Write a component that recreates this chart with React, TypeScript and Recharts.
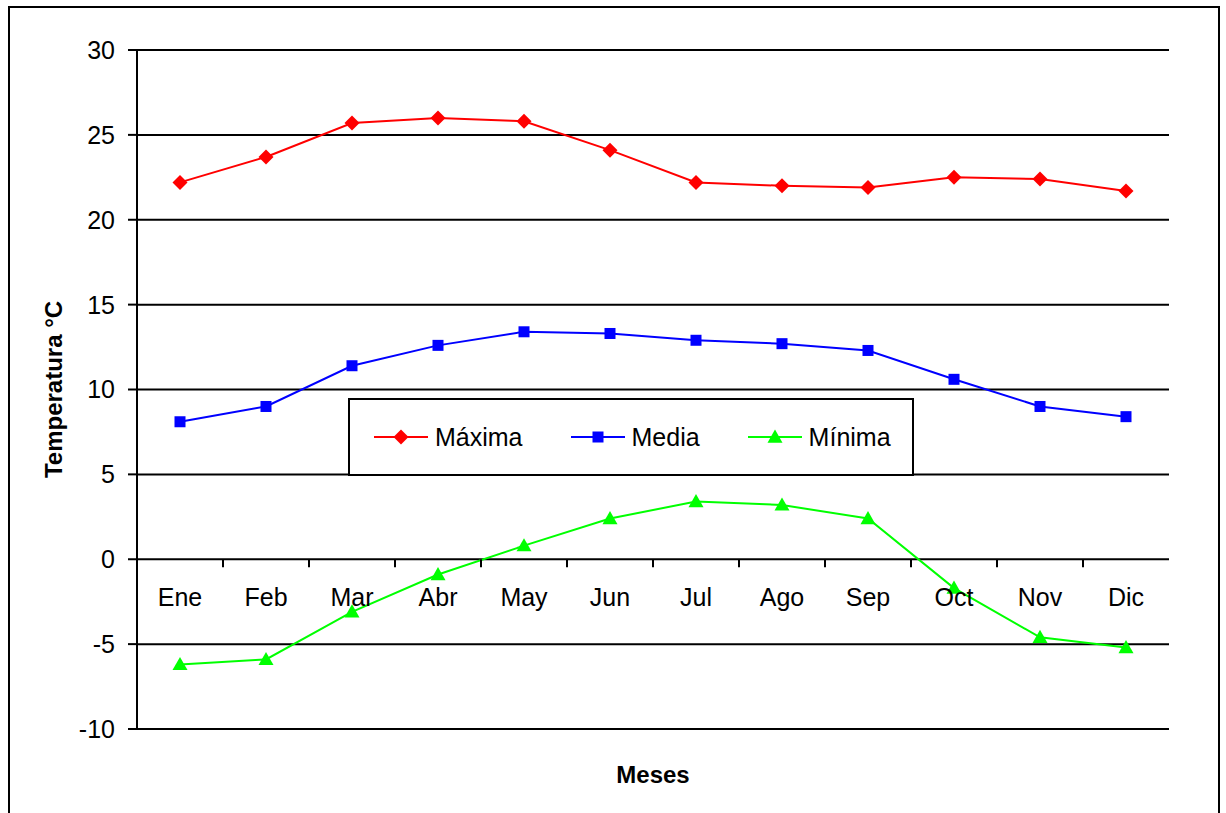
import React from 'react';
import { LineChart, Line, XAxis, YAxis, CartesianGrid, Legend } from 'recharts';

const MONTHS = ['Ene', 'Feb', 'Mar', 'Abr', 'May', 'Jun', 'Jul', 'Ago', 'Sep', 'Oct', 'Nov', 'Dic'];
const MAXIMA = [22.2, 23.7, 25.7, 26.0, 25.8, 24.1, 22.2, 22.0, 21.9, 22.5, 22.4, 21.7];
const MEDIA = [8.1, 9.0, 11.4, 12.6, 13.4, 13.3, 12.9, 12.7, 12.3, 10.6, 9.0, 8.4];
const MINIMA = [-6.2, -5.9, -3.1, -0.9, 0.8, 2.4, 3.4, 3.2, 2.4, -1.7, -4.6, -5.2];
const Y_TICKS = [-10, -5, 0, 5, 10, 15, 20, 25, 30];
const SERIES_NAMES = ['Máxima', 'Media', 'Mínima'];

const data = MONTHS.map((m, i) => ({ mes: m, max: MAXIMA[i], med: MEDIA[i], min: MINIMA[i] }));

const FONT = '"Liberation Sans", Arial, Helvetica, sans-serif';
const FS = 25;
const CHART_W = 1208;
const CHART_H = 820;
const M_TOP = 42;
const M_RIGHT = 49;
const M_BOTTOM = 39;
const Y_W = 127;
const X_H = 60;
const PLOT_H = CHART_H - M_TOP - M_BOTTOM - X_H;
const PLOT_W = CHART_W - M_RIGHT - Y_W;
const Y_MIN = -10;
const Y_MAX = 30;
const ZERO_Y = M_TOP + (PLOT_H * (Y_MAX - 0)) / (Y_MAX - Y_MIN);
const STEP = PLOT_W / MONTHS.length;

const RED = '#FF0000';
const BLUE = '#0000FF';
const GREEN = '#00FF00';

const Diamond = ({ cx, cy, color, r = 7.5 }: any) => (
  <path d={`M${cx},${cy - r}L${cx + r},${cy}L${cx},${cy + r}L${cx - r},${cy}Z`} fill={color} />
);
const Square = ({ cx, cy, color, r = 5.5 }: any) => (
  <rect x={cx - r} y={cy - r} width={2 * r} height={2 * r} fill={color} />
);
const Triangle = ({ cx, cy, color, r = 7.5 }: any) => (
  <path d={`M${cx},${cy - r}L${cx + r},${cy + r * 0.75}L${cx - r},${cy + r * 0.75}Z`} fill={color} />
);

const MonthTick = (props: any) => {
  const { x, payload, index } = props;
  return (
    <g>
      <text x={x} y={ZERO_Y + 47} textAnchor="middle" fontSize={FS} fontFamily={FONT} fill="#000">
        {payload.value}
      </text>
      {index < MONTHS.length - 1 && (
        <line x1={x + STEP / 2} x2={x + STEP / 2} y1={ZERO_Y} y2={ZERO_Y + 8} stroke="#000" strokeWidth={2} />
      )}
    </g>
  );
};

const LegendContent = () => {
  const items = [
    { name: SERIES_NAMES[0], color: RED, Marker: Diamond },
    { name: SERIES_NAMES[1], color: BLUE, Marker: Square },
    { name: SERIES_NAMES[2], color: GREEN, Marker: Triangle },
  ];
  return (
    <div
      style={{
        width: '100%',
        height: '100%',
        boxSizing: 'border-box',
        border: '2px solid #000',
        background: '#fff',
        display: 'flex',
        alignItems: 'center',
        paddingLeft: 24,
        fontFamily: FONT,
        fontSize: FS,
        color: '#000',
      }}
    >
      {items.map((it, i) => (
        <div key={it.name} style={{ display: 'flex', alignItems: 'center', marginRight: i < 2 ? 48 : 0 }}>
          <svg width={54} height={20} style={{ display: 'block' }}>
            <line x1={0} x2={54} y1={10} y2={10} stroke={it.color} strokeWidth={2} />
            <it.Marker cx={27} cy={10} color={it.color} />
          </svg>
          <span style={{ marginLeft: 7, lineHeight: 1 }}>{it.name}</span>
        </div>
      ))}
    </div>
  );
};

const makeDot = (Marker: any, color: string) => (props: any) => {
  const { cx, cy, index } = props;
  return <Marker key={`d-${index}`} cx={cx} cy={cy} color={color} />;
};

export default function App() {
  return (
    <div
      style={{
        position: 'fixed',
        top: 6,
        left: 8,
        width: 1212,
        height: 830,
        border: '2px solid #000',
        boxSizing: 'border-box',
        background: '#fff',
      }}
    >
      <LineChart
        width={CHART_W}
        height={CHART_H}
        data={data}
        margin={{ top: M_TOP, right: M_RIGHT, left: 0, bottom: M_BOTTOM }}
      >
        <CartesianGrid vertical={false} stroke="#000" strokeWidth={2} />
        <XAxis
          dataKey="mes"
          height={X_H}
          axisLine={false}
          tickLine={false}
          interval={0}
          padding={{ left: STEP / 2, right: STEP / 2 }}
          tick={<MonthTick />}
          label={{
            content: (p: any) => {
              const vb = p.viewBox;
              return (
                <text
                  x={vb.x + vb.width / 2}
                  y={vb.y + 54}
                  textAnchor="middle"
                  fontSize={FS - 1}
                  fontWeight="bold"
                  fontFamily={FONT}
                  fill="#000"
                >
                  Meses
                </text>
              );
            },
          }}
        />
        <YAxis
          width={Y_W}
          domain={[Y_MIN, Y_MAX]}
          ticks={Y_TICKS}
          interval={0}
          axisLine={{ stroke: '#000', strokeWidth: 2 }}
          tickLine={{ stroke: '#000', strokeWidth: 2 }}
          tickSize={9}
          tickMargin={13}
          tick={{ fill: '#000', fontSize: FS, fontFamily: FONT }}
          label={{
            content: (p: any) => {
              const vb = p.viewBox;
              const cx = vb.x + 52;
              const cy = vb.y + vb.height / 2;
              return (
                <text
                  x={cx}
                  y={cy}
                  transform={`rotate(-90 ${cx} ${cy})`}
                  textAnchor="middle"
                  fontSize={FS - 1}
                  fontWeight="bold"
                  fontFamily={FONT}
                  fill="#000"
                >
                  Temperatura °C
                </text>
              );
            },
          }}
        />
        <YAxis
          yAxisId="right"
          orientation="right"
          width={0}
          domain={[Y_MIN, Y_MAX]}
          ticks={Y_TICKS}
          tick={false}
          tickLine={false}
          axisLine={{ stroke: '#000', strokeWidth: 2 }}
        />
        <Legend
          layout="horizontal"
          align="center"
          verticalAlign="middle"
          content={<LegendContent />}
          wrapperStyle={{ left: 338, top: 390, width: 566, height: 78 }}
        />
        <Line
          type="linear"
          dataKey="max"
          name={SERIES_NAMES[0]}
          stroke={RED}
          strokeWidth={2}
          dot={makeDot(Diamond, RED)}
          activeDot={false}
          isAnimationActive={false}
        />
        <Line
          type="linear"
          dataKey="med"
          name={SERIES_NAMES[1]}
          stroke={BLUE}
          strokeWidth={2}
          dot={makeDot(Square, BLUE)}
          activeDot={false}
          isAnimationActive={false}
        />
        <Line
          type="linear"
          dataKey="min"
          name={SERIES_NAMES[2]}
          stroke={GREEN}
          strokeWidth={2}
          dot={makeDot(Triangle, GREEN)}
          activeDot={false}
          isAnimationActive={false}
        />
      </LineChart>
    </div>
  );
}
